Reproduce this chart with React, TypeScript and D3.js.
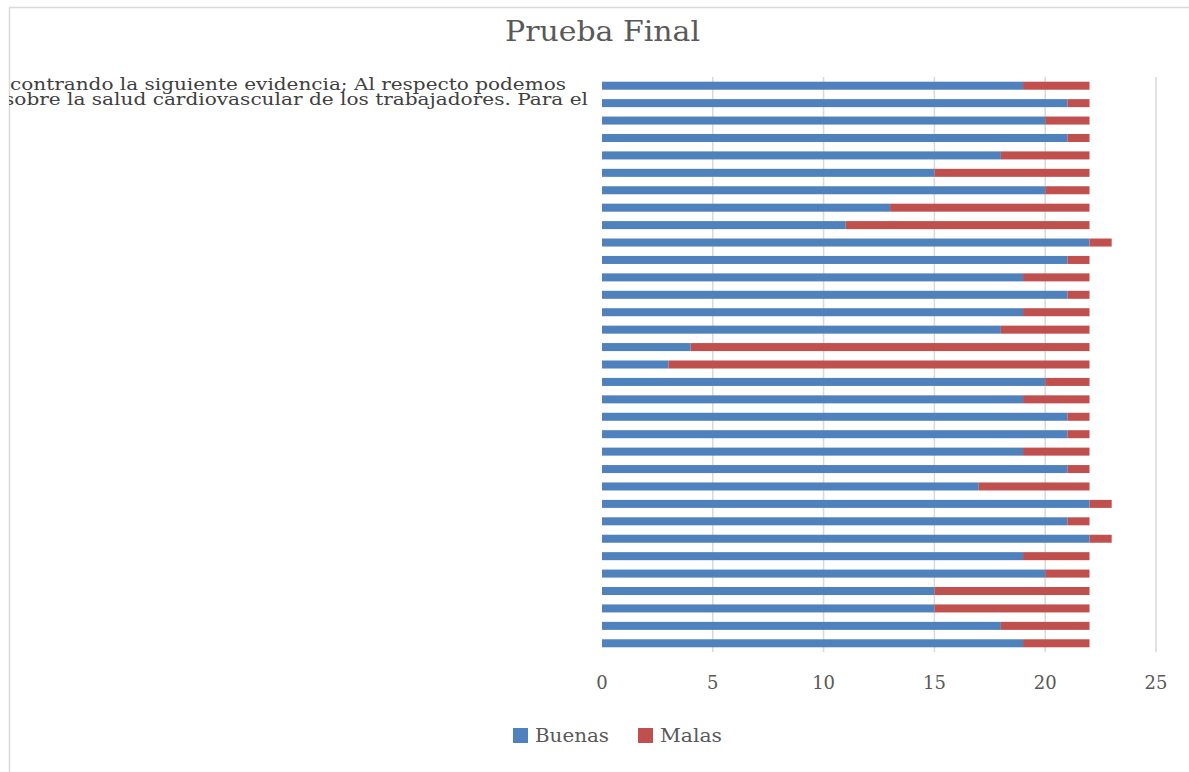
import React from "react";
import * as d3 from "d3";

// Rows listed top to bottom as drawn
const categoryLines: string[][] = [
  [
    "contrando la siguiente evidencia; Al respecto podemos",
    "sobre la salud cardiovascular  de los trabajadores. Para el",
  ],
  ...Array.from({ length: 32 }, () => [] as string[]),
];
const rowIds: string[] = categoryLines.map((_, i) => `r${i}`);

const buenas: number[] = [
  19, 21, 20, 21, 18, 15, 20, 13, 11, 22, 21, 19, 21, 19, 18, 4, 3,
  20, 19, 21, 21, 19, 21, 17, 22, 21, 22, 19, 20, 15, 15, 18, 19,
];
const malas: number[] = [
  3, 1, 2, 1, 4, 7, 2, 9, 11, 1, 1, 3, 1, 3, 4, 18, 19,
  2, 3, 1, 1, 3, 1, 5, 1, 1, 1, 3, 2, 7, 7, 4, 3,
];
const xTicks: number[] = [0, 5, 10, 15, 20, 25];
const seriesNames: string[] = ["Buenas", "Malas"];
const seriesColors: string[] = ["#4f81bd", "#c0504d"];

const W = 1189;
const H = 772;
const FONT = "'DejaVu Serif', serif";

export default function App() {
  const x = d3.scaleLinear().domain([0, 25]).range([602, 1156]);
  const y = d3.scaleBand<string>().domain(rowIds).range([77, 652]).paddingInner(0.54).paddingOuter(0.27);

  const rows = rowIds.map((id, i) => ({ id, Buenas: buenas[i], Malas: malas[i] }));
  const stacked = d3.stack<any>().keys(seriesNames)(rows);

  const legendX = [513, 638];
  const legendTextW = [74, 62];

  return (
    <svg width={W} height={H} style={{ position: "absolute", left: 0, top: 0, background: "#fff" }}>
      <defs>
        <clipPath id="areaClip">
          <rect x={9} y={0} width={W} height={H} />
        </clipPath>
      </defs>
      {/* chart frame */}
      <line x1={9.5} x2={9.5} y1={7} y2={H} stroke="#d9d9d9" strokeWidth={1.5} />
      <line x1={9} x2={W} y1={7.5} y2={7.5} stroke="#d9d9d9" strokeWidth={1.5} />

      <text x={(505 + 700) / 2} y={41} textAnchor="middle" fontFamily={FONT} fontSize={28} fill="#595959"
        textLength={195} lengthAdjust="spacingAndGlyphs">Prueba Final</text>

      {/* vertical gridlines */}
      {xTicks.filter((t) => t > 0).map((t) => (
        <line key={t} x1={x(t)} x2={x(t)} y1={77} y2={652} stroke="#d9d9d9" strokeWidth={1.5} />
      ))}

      {/* stacked bars */}
      {stacked.map((s, si) => (
        <g key={s.key} fill={seriesColors[si]}>
          {s.map((d, i) => (
            <rect key={i} x={x(d[0])} y={y(rowIds[i])!} width={x(d[1]) - x(d[0])} height={y.bandwidth()} />
          ))}
        </g>
      ))}

      {/* category label of the top row, two tightly set lines */}
      <g clipPath="url(#areaClip)">
        {categoryLines[0].length > 0 && (
          <>
            <text x={566} y={90} textAnchor="end" fontFamily={FONT} fontSize={16.5} fill="#404040"
              textLength={556} lengthAdjust="spacingAndGlyphs">{categoryLines[0][0]}</text>
            <text x={588} y={105} textAnchor="end" fontFamily={FONT} fontSize={16.5} fill="#404040"
              textLength={584} lengthAdjust="spacingAndGlyphs">{categoryLines[0][1]}</text>
          </>
        )}
      </g>

      {/* x tick labels */}
      {xTicks.map((t) => (
        <text key={t} x={x(t)} y={689} textAnchor="middle" fontFamily={FONT} fontSize={18} fill="#595959">{t}</text>
      ))}

      {/* legend */}
      {seriesNames.map((n, i) => (
        <g key={n}>
          <rect x={legendX[i]} y={728} width={15} height={15} fill={seriesColors[i]} />
          <text x={legendX[i] + 22} y={742} fontFamily={FONT} fontSize={18} fill="#595959"
            textLength={legendTextW[i]} lengthAdjust="spacingAndGlyphs">{n}</text>
        </g>
      ))}
    </svg>
  );
}
